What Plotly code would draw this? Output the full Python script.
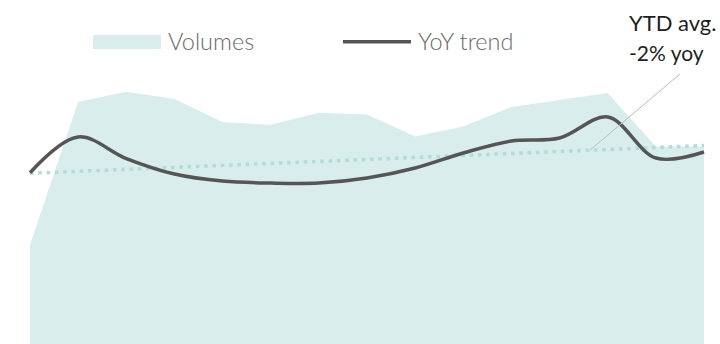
import plotly.graph_objects as go

# Monthly periods (15 points) and series values
periods = list(range(15))
volumes = [28.8, 70.4, 73.3, 71.2, 64.5, 63.7, 67.2, 66.7, 60.3, 63.2, 68.9, 70.9, 73.0, 57.4, 57.4]
yoy_trend = [-5.10, 0.09, -3.04, -5.29, -6.31, -6.60, -6.60, -5.87, -4.42, -2.24, -0.49, -0.06, 2.99, -2.97, -2.09]
ytd_avg_x = [0, 14]
ytd_avg_y = [-5.19, -1.15]

W, H = 720, 344
FILL = "#d9edec"
LINE = "#555555"
DOT = "#b3dddb"
FONT = "Lato"


def px(x):
    return x / W


def py(y):
    return 1 - y / H


fig = go.Figure()

fig.add_trace(go.Scatter(
    x=periods, y=volumes, mode="lines", fill="tozeroy",
    fillcolor=FILL, line=dict(width=0, color=FILL), name="Volumes",
    showlegend=False, hoverinfo="skip",
))

fig.add_trace(go.Scatter(
    x=ytd_avg_x, y=ytd_avg_y, yaxis="y2", mode="lines",
    line=dict(color=DOT, width=3.6, dash="3.6px,4.7px"),
    showlegend=False, hoverinfo="skip",
))

fig.add_trace(go.Scatter(
    x=periods, y=yoy_trend, yaxis="y2", mode="lines",
    line=dict(color=LINE, width=3.5, shape="spline", smoothing=1.0),
    name="YoY trend", showlegend=False, hoverinfo="skip",
))

# Leader from the YTD average line up to its label
anchor_x = 11.63
slope = (ytd_avg_y[1] - ytd_avg_y[0]) / (ytd_avg_x[1] - ytd_avg_x[0])
anchor_y = ytd_avg_y[0] + slope * (anchor_x - ytd_avg_x[0])

shapes = [
    dict(type="line", xref="x", yref="y2", x0=anchor_x, y0=anchor_y, x1=13.50, y1=9.24,
         line=dict(color="#bdbdbd", width=1)),
    # legend swatches
    dict(type="rect", xref="paper", yref="paper", x0=px(93), x1=px(161), y0=py(49), y1=py(35),
         fillcolor=FILL, line=dict(width=0)),
    dict(type="line", xref="paper", yref="paper", x0=px(343), x1=px(411), y0=py(41.7), y1=py(41.7),
         line=dict(color=LINE, width=3.5)),
]

legend_font = dict(family=FONT, size=23.5, color="#6a6a6a", weight=300)
annotations = [
    dict(text="Volumes", xref="paper", yref="paper", x=px(166), y=py(41), xanchor="left",
         yanchor="middle", showarrow=False, font=legend_font),
    dict(text="YoY trend", xref="paper", yref="paper", x=px(416), y=py(41), xanchor="left",
         yanchor="middle", showarrow=False, font=legend_font),
    dict(text="YTD avg.", xref="paper", yref="paper", x=px(627), y=py(22), xanchor="left",
         yanchor="middle", showarrow=False, font=dict(family=FONT, size=22, color="#1e1e1e")),
    dict(text="-2% yoy", xref="paper", yref="paper", x=px(627), y=py(52), xanchor="left",
         yanchor="middle", showarrow=False, font=dict(family=FONT, size=21, color="#1e1e1e")),
]

fig.update_layout(
    width=W, height=H,
    margin=dict(l=0, r=0, t=0, b=0),
    paper_bgcolor="white", plot_bgcolor="white",
    xaxis=dict(range=[-30 / 48.14, 14 + 16 / 48.14], visible=False, fixedrange=True),
    yaxis=dict(range=[0, 100], visible=False, fixedrange=True),
    yaxis2=dict(range=[-30, 20], overlaying="y", visible=False, fixedrange=True),
    shapes=shapes, annotations=annotations,
    showlegend=False,
)

fig.write_html("out.html", config={"displayModeBar": False})
